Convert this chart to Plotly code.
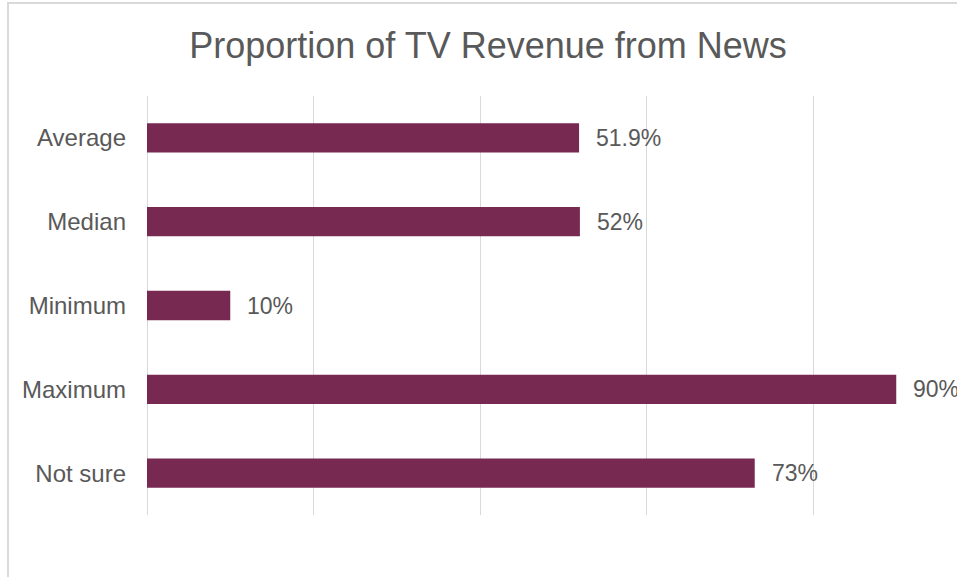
import plotly.graph_objects as go

# Survey summary: share of TV revenue coming from news
categories = ["Average", "Median", "Minimum", "Maximum", "Not sure"]
values = [51.9, 52, 10, 90, 73]
value_labels = [f"{v:g}%" for v in values]

BAR_COLOR = "#772952"
TEXT_COLOR = "#595959"
GRID_COLOR = "#d9d9d9"
FONT = "Liberation Sans, Arial, sans-serif"

W, H = 957, 577
L, R, T, B = 147, 0, 96, 62
plot_w = W - L - R
plot_h = H - T - B

fig = go.Figure(
    go.Bar(
        x=values,
        y=categories,
        orientation="h",
        marker=dict(color=BAR_COLOR, line=dict(width=0)),
        width=0.35,
        hoverinfo="skip",
    )
)

# value labels just right of each bar end
for cat, v, lab in zip(categories, values, value_labels):
    fig.add_annotation(
        x=v, y=cat, text=lab, showarrow=False,
        xanchor="left", yanchor="middle", xshift=15,
        font=dict(family=FONT, size=23, color=TEXT_COLOR),
    )

# light outer chart border (left and top edges visible)
fig.add_shape(
    type="rect", xref="paper", yref="paper",
    x0=(8 - L) / plot_w, x1=1.2,
    y0=-0.5, y1=(H - B - 3) / plot_h,
    line=dict(color=GRID_COLOR, width=2),
    fillcolor="rgba(0,0,0,0)", layer="below",
)

fig.update_layout(
    width=W, height=H,
    margin=dict(l=L, r=R, t=T, b=B),
    paper_bgcolor="white",
    plot_bgcolor="white",
    showlegend=False,
    title=dict(
        text="Proportion of TV Revenue from News",
        x=488 / W, xanchor="center",
        y=1 - 45 / H, yanchor="middle",
        font=dict(family=FONT, size=36, color=TEXT_COLOR),
    ),
    xaxis=dict(
        range=[0, plot_w / 166.5 * 20],
        tickvals=[0, 20, 40, 60, 80],
        showticklabels=False,
        showgrid=True, gridcolor=GRID_COLOR, gridwidth=1,
        zeroline=True, zerolinecolor=GRID_COLOR, zerolinewidth=1,
        showline=False, ticks="",
        fixedrange=True,
    ),
    yaxis=dict(
        categoryorder="array",
        categoryarray=categories[::-1],
        tickfont=dict(family=FONT, size=24, color=TEXT_COLOR),
        ticklabelstandoff=20,
        showgrid=False, zeroline=False, showline=False, ticks="",
        fixedrange=True,
    ),
)

fig.write_html("out.html")
